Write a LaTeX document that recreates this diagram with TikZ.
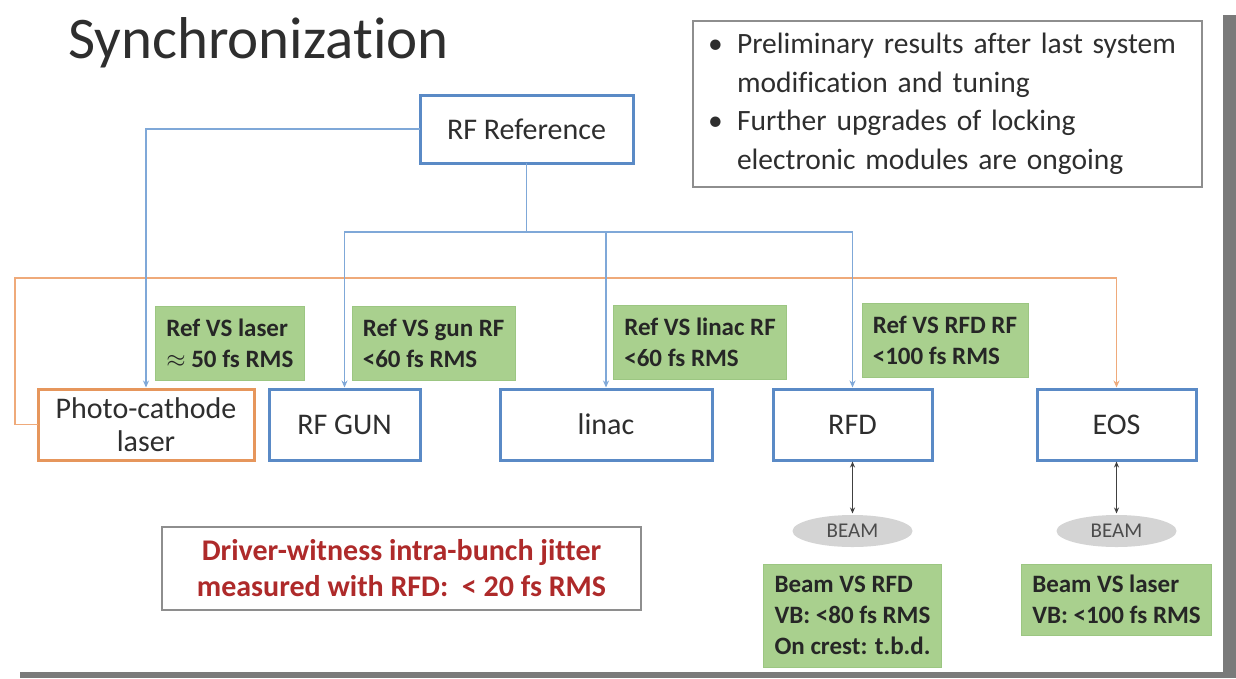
\documentclass[tikz,border=0pt]{standalone}
\usepackage{fontspec}
\setmainfont{Carlito}[Ligatures=NoCommon]
\usetikzlibrary{positioning,arrows.meta,shapes.geometric}
\definecolor{refblue}{HTML}{5A8AC6}
\definecolor{linkblue}{HTML}{7FA8D8}
\definecolor{laserorange}{HTML}{E6965C}
\definecolor{linkorange}{HTML}{EFAA7A}
\definecolor{measgreen}{HTML}{A9D08E}
\definecolor{measedge}{HTML}{9CC682}
\definecolor{notegray}{HTML}{8E8E8E}
\definecolor{beamgray}{HTML}{D4D4D4}
\definecolor{jitred}{HTML}{AE2A2A}
\definecolor{shadowgray}{HTML}{7A7A7A}
\definecolor{inkgray}{HTML}{2E2E2E}
\newcommand{\fsz}[2]{\fontsize{#1}{#2}\selectfont}
\newcommand{\bul}{\makebox[29pt][l]{\textbullet}}
\newcommand{\ind}{\hspace*{29pt}}

\begin{document}
\begin{tikzpicture}[x=1pt,y=-1pt,shorten >=1.5pt,>={Stealth[length=7pt,width=6pt]},
	box/.style={draw=refblue,line width=3pt,minimum width=#1,minimum height=71pt,inner sep=0pt,outer sep=0pt,text=inkgray,font=\fsz{30}{33}},
	laserbox/.style={box=#1,draw=laserorange,align=center},
	meas/.style={fill=measgreen,draw=measedge,line width=0.6pt,inner xsep=11pt,inner ysep=0pt,minimum height=74pt,align=left,text=black!85,font=\bfseries\fsz{25}{31}},
	beam/.style={ellipse,fill=beamgray,minimum width=120pt,minimum height=32pt,inner sep=0pt,outer sep=0pt,text=black!70,font=\fsz{21}{24}},
	note/.style={draw=notegray,line width=2.5pt,inner sep=0pt,outer sep=0pt},
	reflink/.style={draw=linkblue,line width=1.5pt},
	laserlink/.style={draw=linkorange,line width=1.5pt},
	twoway/.style={draw=black!75,line width=1.5pt,shorten <=1.5pt,>={Stealth[length=6pt,width=5pt]}}]
	\useasboundingbox (0,0) rectangle (1236,678);
	\fill[white] (0,0) rectangle (1236,678);
	\fill[shadowgray] (1223,15) rectangle (1236,678);
	\fill[shadowgray] (20,672) rectangle (1236,678);

	\node[anchor=base west,inner sep=0pt,text=inkgray,font=\fsz{59}{70}] (title) at (68,58) {Synchronization};
	\node[note,anchor=north west,text width=479pt,inner xsep=15pt,minimum height=166pt,align=left,text=inkgray,font=\fsz{29.5}{38.5}] (notes) at (693,21)
		{\bul Preliminary results after last system\\ \ind modification and tuning\\ \bul Further upgrades of locking\\ \ind electronic modules are ongoing};

	\node[box=213pt,minimum height=68pt] (ref) at (526.5,129) {RF Reference};
	\coordinate[below=69pt of ref] (bus);

	\node[laserbox=216pt,anchor=north west] (photo) at (38,389) {Photo-cathode\\laser};
	\node[box=151pt,right=15pt of photo] (gun) {RF GUN};
	\node[box=212pt,right=80pt of gun] (linac) {linac};
	\node[box=159pt,right=61pt of linac] (rfd) {RFD};
	\node[box=159pt,right=105pt of rfd] (eos) {EOS};

	\node[meas,above right=8pt and 9pt of photo.north] (labLaser) {Ref VS laser\\$\approx$ 50 fs RMS};
	\node[meas,above right=8pt and 7pt of gun.north] (labGun) {Ref VS gun RF\\<60 fs RMS};
	\node[meas,above right=9pt and 7pt of linac.north] (labLinac) {Ref VS linac RF\\<60 fs RMS};
	\node[meas,above right=11pt and 9pt of rfd.north] (labRfd) {Ref VS RFD RF\\<100 fs RMS};

	\node[beam,below=55pt of rfd] (beamRfd) {BEAM};
	\node[beam,below=55pt of eos] (beamEos) {BEAM};
	\node[meas,minimum height=103pt,below=17pt of beamRfd] (resRfd) {Beam VS RFD\\VB: <80 fs RMS\\On crest: t.b.d.};
	\node[meas,minimum height=71pt,below=17pt of beamEos] (resEos) {Beam VS laser\\VB: <100 fs RMS};

	\node[note,minimum width=479pt,minimum height=83pt,align=center,text=jitred,font=\bfseries\fsz{30}{36}] (jitter) at (401.5,568.5)
		{Driver-witness intra-bunch jitter\\measured with RFD:~~< 20 fs RMS};

	\coordinate (loop) at (15,278);
	\draw[laserlink,->] (photo) -| (loop) -| (eos);
	\draw[reflink,->] (ref) -| (photo);
	\draw[reflink] (ref) -- (bus);
	\draw[reflink,->] (bus) -| (gun);
	\draw[reflink,->] (bus) -| (linac);
	\draw[reflink,->] (bus) -| (rfd);
	\draw[twoway,<->] (rfd) -- (beamRfd);
	\draw[twoway,<->] (eos) -- (beamEos);
\end{tikzpicture}
\end{document}
